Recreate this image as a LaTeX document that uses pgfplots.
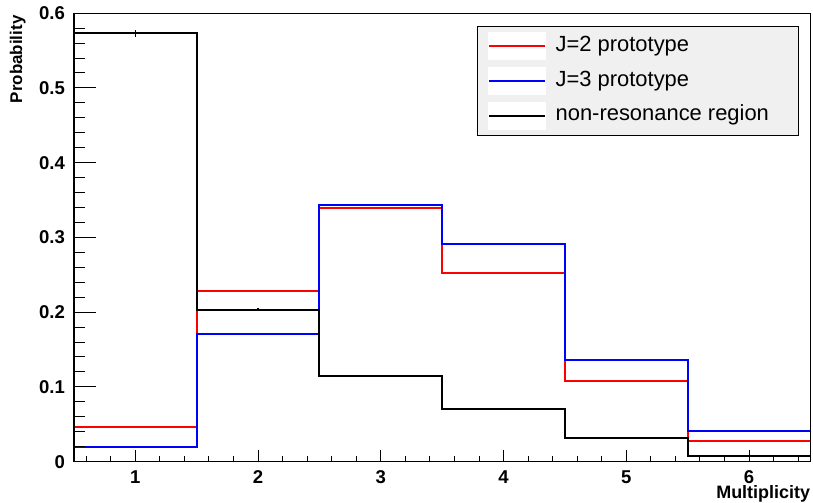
\documentclass[border={5pt 0pt 1pt 0pt}]{standalone}
\usepackage{fontspec}
\setmainfont{Liberation Sans}
\usepackage{pgfplots}
\pgfplotsset{compat=1.18}
\begin{document}
\begin{tikzpicture}
\begin{axis}[
  scale only axis,
  width=369.5pt, height=225pt,
  xmin=0.5, xmax=6.5, ymin=0, ymax=0.6,
  xtick={1,2,3,4,5,6},
  ytick={0,0.1,0.2,0.3,0.4,0.5,0.6},
  minor xtick={0.6,0.8,1.2,1.4,1.6,1.8,2.2,2.4,2.6,2.8,3.2,3.4,3.6,3.8,4.2,4.4,4.6,4.8,5.2,5.4,5.6,5.8,6.2,6.4},
  minor y tick num=4,
  tick pos=left,
  tick align=inside,
  major tick length=6pt,
  minor tick length=3pt,
  axis line style={line width=0.6pt},
  every tick/.style={black, line width=0.5pt},
  /pgf/number format/assume math mode=true,
  /pgf/number format/fixed,
  tick label style={font=\bfseries\fontsize{9.3}{10}\selectfont},
  yticklabel style={xshift=-1pt},
  xticklabel style={yshift=-1pt},
  xlabel={Multiplicity},
  ylabel={Probability},
  xlabel style={font=\bfseries\fontsize{9}{10}\selectfont, at={(axis description cs:1,0)}, anchor=north east, yshift=-12pt, inner sep=0pt},
  ylabel style={font=\bfseries\fontsize{8.5}{10}\selectfont, at={(axis description cs:0,1)}, anchor=south east, yshift=24pt, xshift=-1pt, inner sep=0pt},
  legend style={at={(axis description cs:0.985,0.972)}, anchor=north east, fill=black!6, draw=black, line width=0.5pt,
    font=\fontsize{11}{12}\selectfont, inner xsep=5pt, inner ysep=3pt, row sep=3.5pt,
    nodes={inner sep=2pt, text height=7.5pt, text depth=2.5pt}},
  legend cell align=left,
  legend image code/.code={\fill[white] (0pt,-6.5pt) rectangle (28pt,6.5pt); \draw[#1] (0pt,0pt) -- (28pt,0pt); \path (31pt,0pt);},
]
\addplot[red, line width=1pt, const plot] coordinates {
 (0.5,0.046) (1.5,0.228) (2.5,0.339) (3.5,0.253) (4.5,0.108) (5.5,0.028) (6.5,0.028)};
\addlegendentry{J=2 prototype}
\addplot[blue, line width=1pt, const plot] coordinates {
 (0.5,0.020) (1.5,0.171) (2.5,0.344) (3.5,0.291) (4.5,0.136) (5.5,0.041) (6.5,0.041)};
\addlegendentry{J=3 prototype}
\addplot[black, line width=1pt, const plot] coordinates {
 (0.5,0.573) (1.5,0.203) (2.5,0.115) (3.5,0.070) (4.5,0.032) (5.5,0.008) (6.5,0.008)};
\addlegendentry{non-resonance region\rule{8pt}{0pt}}
\addplot[draw=none, mark=none, forget plot,
  error bars/.cd, y dir=both, y explicit, error bar style={black, solid, line width=0.6pt}, error mark=none]
  coordinates {
 (1,0.573) +- (0,0.0047)
 (2,0.203) +- (0,0.002)
 (3,0.115) +- (0,0.0015)
 (4,0.070) +- (0,0.0012)
 (5,0.032) +- (0,0.001)
 (6,0.008) +- (0,0.0005)};
\end{axis}
\begin{axis}[
  scale only axis,
  width=369.5pt, height=225pt,
  xmin=0.5, xmax=6.5, ymin=0, ymax=0.6,
  hide x axis,
  ytick={0,0.1,0.2,0.3,0.4,0.5,0.6},
  yticklabels={},
  minor y tick num=4,
  tick pos=left,
  tick align=inside,
  major tick length=11pt,
  minor tick length=5.5pt,
  axis line style={line width=0.6pt},
  every tick/.style={black, line width=0.5pt},
]
\end{axis}
\end{tikzpicture}
\end{document}
